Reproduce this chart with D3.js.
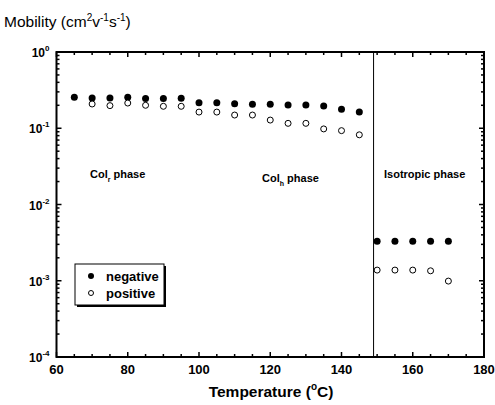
<!DOCTYPE html>
<html>
<head>
<script src="https://d3js.org/d3.v7.min.js"></script>
<style>
  body { margin: 0; background: #fff; }
  svg { font-family: "Liberation Sans", Arial, sans-serif; }
</style>
</head>
<body>
<svg id="chart" width="495" height="405"></svg>
<script>
// temperatures (°C) and mobilities (cm2 V-1 s-1)
var tempNeg = [65, 70, 75, 80, 85, 90, 95, 100, 105, 110, 115, 120, 125, 130, 135, 140, 145, 150, 155, 160, 165, 170];
var negative = [0.255, 0.25, 0.25, 0.255, 0.245, 0.245, 0.248, 0.216, 0.216, 0.21, 0.206, 0.206, 0.202, 0.202, 0.196, 0.177, 0.163,
                0.0033, 0.0033, 0.0033, 0.0033, 0.0033];
var tempPos = [70, 75, 80, 85, 90, 95, 100, 105, 110, 115, 120, 125, 130, 135, 140, 145, 150, 155, 160, 165, 170];
var positive = [0.208, 0.198, 0.214, 0.2, 0.194, 0.194, 0.163, 0.163, 0.149, 0.149, 0.128, 0.116, 0.116, 0.098, 0.093, 0.082,
                0.00138, 0.00138, 0.00138, 0.00135, 0.00099];
var xTicks = [60, 80, 100, 120, 140, 160, 180];
var yExps = [0, -1, -2, -3, -4];
var transitionT = 149;

var svg = d3.select('#chart');
var pLeft = 56.5, pRight = 484, pTop = 52, pBottom = 357;

var x = d3.scaleLinear().domain([60, 180]).range([pLeft, pRight]);
var y = d3.scaleLog().domain([1e-4, 1]).range([pBottom, pTop]);

// minor tick values
var xMinor = d3.range(60, 181, 5).filter(function(d) { return d % 20 !== 0; });
var yMinor = [];
[-4, -3, -2, -1].forEach(function(e) {
    for (var k = 2; k <= 9; k++) yMinor.push(k * Math.pow(10, e));
});

var g = svg.append('g');

// ticks pointing inward on all four sides
function tickLines(vals, len, horizontal) {
    vals.forEach(function(v) {
        if (horizontal) {
            g.append('line').attr('x1', x(v)).attr('x2', x(v)).attr('y1', pBottom).attr('y2', pBottom - len);
            g.append('line').attr('x1', x(v)).attr('x2', x(v)).attr('y1', pTop).attr('y2', pTop + len);
        } else {
            g.append('line').attr('y1', y(v)).attr('y2', y(v)).attr('x1', pLeft).attr('x2', pLeft + len);
            g.append('line').attr('y1', y(v)).attr('y2', y(v)).attr('x1', pRight).attr('x2', pRight - len);
        }
    });
}
tickLines(xTicks, 5, true);
tickLines(xMinor, 3, true);
tickLines(yExps.map(function(e) { return Math.pow(10, e); }), 5, false);
tickLines(yMinor, 3, false);
g.selectAll('line').attr('stroke', '#000').attr('stroke-width', 1.5);

// frame
svg.append('rect')
    .attr('x', pLeft).attr('y', pTop)
    .attr('width', pRight - pLeft).attr('height', pBottom - pTop)
    .attr('fill', 'none').attr('stroke', '#000').attr('stroke-width', 2);

// phase transition line
svg.append('line')
    .attr('x1', x(transitionT)).attr('x2', x(transitionT))
    .attr('y1', pTop).attr('y2', pBottom)
    .attr('stroke', '#000').attr('stroke-width', 1);

// x tick labels
svg.selectAll('.xl').data(xTicks).enter().append('text')
    .attr('x', function(d) { return x(d); })
    .attr('y', pBottom + 17)
    .attr('text-anchor', 'middle')
    .attr('font-size', 13).attr('font-weight', 'bold')
    .text(function(d) { return d; });

// y tick labels 10^n
yExps.forEach(function(e) {
    var t = svg.append('text')
        .attr('x', pLeft - 7).attr('y', y(Math.pow(10, e)) + 5)
        .attr('text-anchor', 'end')
        .attr('font-size', 12).attr('font-weight', 'bold');
    t.append('tspan').text('10');
    t.append('tspan').attr('dy', -6).attr('font-size', 8).text(e);
});

// axis titles
var yt = svg.append('text').attr('x', 4).attr('y', 27).attr('font-size', 15.5);
yt.append('tspan').text('Mobility (cm');
yt.append('tspan').attr('dy', -6).attr('font-size', 10).text('2');
yt.append('tspan').attr('dy', 6).text('v');
yt.append('tspan').attr('dy', -6).attr('font-size', 10).text('-1');
yt.append('tspan').attr('dy', 6).text('s');
yt.append('tspan').attr('dy', -6).attr('font-size', 10).text('-1');
yt.append('tspan').attr('dy', 6).text(')');

var xt = svg.append('text').attr('x', 271).attr('y', 397)
    .attr('text-anchor', 'middle').attr('font-size', 15.5).attr('font-weight', 'bold');
xt.append('tspan').text('Temperature (');
xt.append('tspan').attr('dy', -7).attr('font-size', 10).text('o');
xt.append('tspan').attr('dy', 7).text('C)');

// phase labels
function phaseLabel(px, py, main, sub, rest) {
    var t = svg.append('text').attr('x', px).attr('y', py)
        .attr('font-size', 11).attr('font-weight', 'bold');
    t.append('tspan').text(main);
    if (sub) {
        t.append('tspan').attr('dy', 4).attr('font-size', 7).text(sub);
        t.append('tspan').attr('dy', -4).text(rest);
    }
}
phaseLabel(90, 178, 'Col', 'r', ' phase');
phaseLabel(262, 182, 'Col', 'h', ' phase');
phaseLabel(384, 178, 'Isotropic phase');

// data points
svg.selectAll('.neg').data(tempNeg).enter().append('circle')
    .attr('cx', function(d) { return x(d); })
    .attr('cy', function(d, i) { return y(negative[i]); })
    .attr('r', 3.5).attr('fill', '#000');

svg.selectAll('.pos').data(tempPos).enter().append('circle')
    .attr('cx', function(d) { return x(d); })
    .attr('cy', function(d, i) { return y(positive[i]); })
    .attr('r', 3).attr('fill', '#fff').attr('stroke', '#000').attr('stroke-width', 1);

// legend
var lg = svg.append('g').attr('transform', 'translate(75,264)');
lg.append('rect').attr('x', 2).attr('y', 2).attr('width', 89).attr('height', 41).attr('fill', '#000');
lg.append('rect').attr('x', 0).attr('y', 0).attr('width', 89).attr('height', 41)
    .attr('fill', '#fff').attr('stroke', '#000').attr('stroke-width', 1);
lg.append('circle').attr('cx', 16).attr('cy', 12).attr('r', 3).attr('fill', '#000');
lg.append('circle').attr('cx', 16).attr('cy', 29).attr('r', 2.5).attr('fill', '#fff').attr('stroke', '#000');
lg.append('text').attr('x', 31).attr('y', 16.5).attr('font-size', 13).attr('font-weight', 'bold').text('negative');
lg.append('text').attr('x', 31).attr('y', 33.5).attr('font-size', 13).attr('font-weight', 'bold').text('positive');
</script>
</body>
</html>
